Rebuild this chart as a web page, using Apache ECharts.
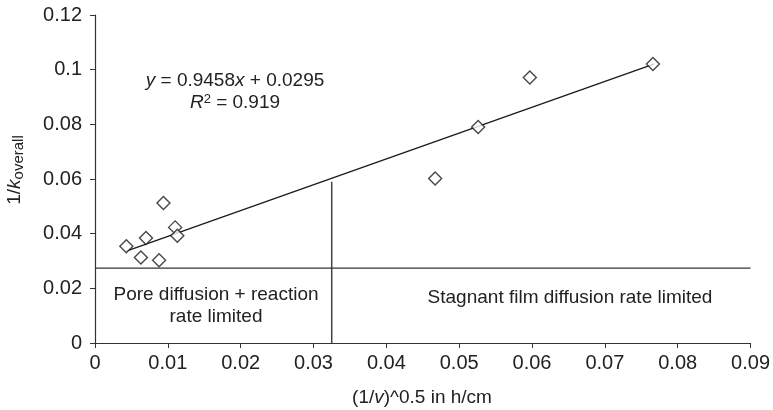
<!DOCTYPE html>
<html>
<head>
<meta charset="utf-8">
<script src="https://cdn.jsdelivr.net/npm/echarts@6/dist/echarts.min.js"></script>
<style>
  html, body { margin: 0; padding: 0; background: #fff; }
  #chart { width: 773px; height: 410px; }
</style>
</head>
<body>
<div id="chart"></div>
<script>
(function () {
  "use strict";

  // measured points, (1/v)^0.5 vs 1/k_overall
  const xVals = [0.0043, 0.0063, 0.0070, 0.0088, 0.0094, 0.0110, 0.0113, 0.0467, 0.0526, 0.0597, 0.0766];
  const yVals = [0.0354, 0.0313, 0.0384, 0.0303, 0.0512, 0.0423, 0.0392, 0.0602, 0.0790, 0.0971, 0.1021];

  // linear fit, drawn between its two ends
  const trendX = [0.0043, 0.0768];
  const trendY = [0.0336, 0.1021];

  // regime boundaries
  const vLineX = [0.0325, 0.0325];
  const vLineY = [0, 0.0590];
  const hLineX = [0, 0.09];
  const hLineY = [0.0274, 0.0274];

  const xTicks = { min: 0, max: 0.09, interval: 0.01 };
  const yTicks = { min: 0, max: 0.12, interval: 0.02 };

  const pair = (xs, ys) => xs.map((x, i) => [x, ys[i]]);
  const font = 'Liberation Sans, Arial, sans-serif';
  const ink = '#222';
  const italic = { fontStyle: 'italic', fontSize: 19, fontFamily: font, fill: ink };

  const chart = echarts.init(document.getElementById('chart'));
  chart.setOption({
    animation: false,
    backgroundColor: '#fff',
    grid: { left: 95, right: 21, top: 15, bottom: 67 },
    xAxis: {
      type: 'value',
      min: xTicks.min, max: xTicks.max, interval: xTicks.interval,
      axisLine: { show: true, onZero: false, lineStyle: { color: '#333', width: 1.2 } },
      axisTick: { show: true, inside: false, length: 5, lineStyle: { color: '#333' } },
      axisLabel: { color: ink, fontSize: 20, fontFamily: font, margin: 10 },
      splitLine: { show: false }
    },
    yAxis: {
      type: 'value',
      min: yTicks.min, max: yTicks.max, interval: yTicks.interval,
      axisLine: { show: true, onZero: false, lineStyle: { color: '#333', width: 1.2 } },
      axisTick: { show: true, inside: false, length: 5, lineStyle: { color: '#333' } },
      axisLabel: { color: ink, fontSize: 20, fontFamily: font, margin: 13 },
      splitLine: { show: false }
    },
    series: [
      {
        type: 'line',
        data: pair(trendX, trendY),
        symbol: 'none',
        lineStyle: { color: '#1a1a1a', width: 1.3 },
        z: 2
      },
      {
        type: 'line',
        data: pair(vLineX, vLineY),
        symbol: 'none',
        lineStyle: { color: '#444', width: 1.5 },
        z: 2
      },
      {
        type: 'line',
        data: pair(hLineX, hLineY),
        symbol: 'none',
        lineStyle: { color: '#333', width: 1.3 },
        z: 2
      },
      {
        type: 'scatter',
        data: pair(xVals, yVals),
        symbol: 'diamond',
        symbolSize: 13,
        itemStyle: { color: '#fff', borderColor: '#1a1a1a', borderWidth: 1.4 },
        z: 3
      }
    ],
    graphic: [
      {
        type: 'text', x: 235, y: 81,
        style: {
          text: '{i|y} = 0.9458{i|x} + 0.0295',
          font: '19px ' + font, fill: ink, align: 'center', verticalAlign: 'middle',
          rich: { i: italic }
        }
      },
      {
        type: 'text', x: 235, y: 103,
        style: {
          text: '{i|R}{sup|2} = 0.919',
          font: '19px ' + font, fill: ink, align: 'center', verticalAlign: 'middle',
          rich: {
            i: italic,
            sup: { fontSize: 13, fontFamily: font, fill: ink, verticalAlign: 'top', padding: [0, 0, 7, 0] }
          }
        }
      },
      {
        type: 'text', x: 570, y: 298,
        style: {
          text: 'Stagnant film diffusion rate limited',
          font: '19px ' + font, fill: ink, align: 'center', verticalAlign: 'middle'
        }
      },
      {
        type: 'text', x: 216, y: 306,
        style: {
          text: 'Pore diffusion + reaction\nrate limited',
          font: '19px ' + font, fill: ink, align: 'center', verticalAlign: 'middle', lineHeight: 22
        }
      },
      {
        type: 'text', x: 422, y: 398,
        style: {
          text: '(1/{i|v})^0.5 in h/cm',
          font: '19px ' + font, fill: ink, align: 'center', verticalAlign: 'middle',
          rich: { i: italic }
        }
      },
      {
        type: 'text', x: 15, y: 170, rotation: Math.PI / 2,
        style: {
          text: '1/{i|k}{sub|overall}',
          font: '19px ' + font, fill: ink, align: 'center', verticalAlign: 'middle',
          rich: {
            i: italic,
            sub: { fontSize: 15, fontFamily: font, fill: ink, verticalAlign: 'bottom', padding: [7, 0, 0, 0] }
          }
        }
      }
    ]
  });
})();
</script>
</body>
</html>
